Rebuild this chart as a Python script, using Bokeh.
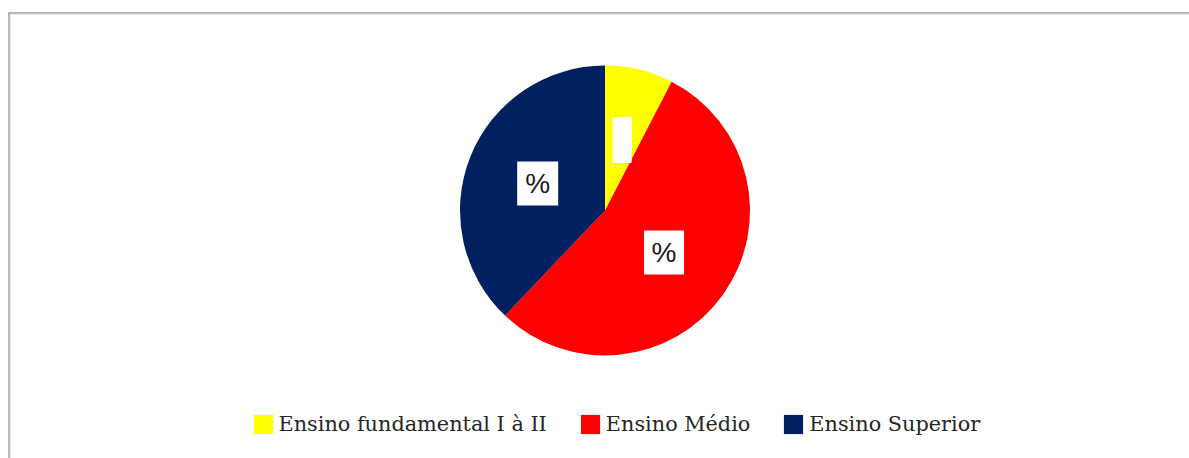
import numpy as np
from bokeh.plotting import figure
from bokeh.models import ColumnDataSource, Legend, LegendItem
from bokeh.core.properties import value
from bokeh.embed import file_html
from bokeh.resources import INLINE

categories = ["Ensino fundamental I à II", "Ensino Médio", "Ensino Superior"]
shares = [7.6, 54.5, 37.9]
colors = ["#FFFF00", "#FF0000", "#002060"]
label_texts = ["", "%", "%"]
box_widths = [19, 40, 41]
box_heights = [46, 44, 44]

W, H = 1189, 458
cx, cy, R = 604.5, 248, 145

frac = np.array(shares) / sum(shares)
cum = np.concatenate([[0], np.cumsum(frac)])
start = np.pi / 2 - cum[:-1] * 2 * np.pi
end = np.pi / 2 - cum[1:] * 2 * np.pi
mid = (start + end) / 2
lr = R * 0.5

src = ColumnDataSource(dict(
    cat=categories, color=colors, start=start, end=end,
    lx=cx + lr * np.cos(mid), ly=cy + lr * np.sin(mid),
    txt=label_texts, bw=box_widths, bh=box_heights,
))

p = figure(width=W, height=H, x_range=(0, W), y_range=(0, H), min_border=0,
           outline_line_color=None, output_backend="svg", toolbar_location=None)
p.axis.visible = False
p.grid.visible = False
p.background_fill_color = "white"

# chart border (top and left visible)
p.segment(x0=[8, 8], y0=[445.5, 444.5], x1=[W, W], y1=[445.5, 444.5],
          line_color=["#6f6f6f", "#cfcfcf"], line_width=1)
p.segment(x0=[8.5, 9.5], y0=[0, 0], x1=[8.5, 9.5], y1=[445.5, 444.5],
          line_color=["#6f6f6f", "#cfcfcf"], line_width=1)

wedges = p.wedge(x=cx, y=cy, radius=R, start_angle="start", end_angle="end",
                 direction="clock", fill_color="color", line_color=None, source=src)

p.rect(x="lx", y="ly", width="bw", height="bh", fill_color="white",
       line_color=None, source=src)
p.text(x="lx", y="ly", text="txt", text_align="center", text_baseline="middle",
       text_font=value("Liberation Sans"), text_font_size="28px",
       text_color="#1a1a1a", source=src)

items = [LegendItem(label=c, renderers=[wedges], index=i) for i, c in enumerate(categories)]
legend = Legend(items=items, orientation="horizontal", location=(250.5, 22.5),
                glyph_width=24, glyph_height=24, label_standoff=4, spacing=31,
                padding=0, margin=0, border_line_color=None,
                background_fill_alpha=0,
                label_text_font="DejaVu Serif", label_text_font_size="20.8px",
                label_text_color="#262626")
p.add_layout(legend, "center")

open("out.html", "w").write(file_html(p, INLINE))
